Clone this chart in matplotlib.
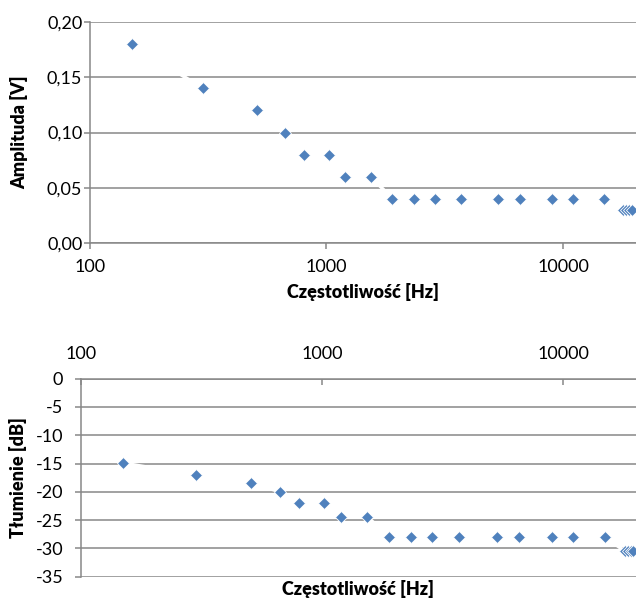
import matplotlib
matplotlib.use("Agg")
import matplotlib.pyplot as plt
from matplotlib.ticker import NullLocator

plt.rcParams['font.family'] = ['Lato', 'DejaVu Sans']

# ---- data ----
freq_hz = [150, 300, 510, 670, 805, 1020, 1200, 1540, 1900, 2340, 2870, 3710,
           5320, 6560, 9020, 11000, 14950, 18000, 18500, 19000, 19500]
amplitude_v = [0.18, 0.14, 0.12, 0.10, 0.08, 0.08, 0.06, 0.06,
               0.04, 0.04, 0.04, 0.04, 0.04, 0.04, 0.04, 0.04, 0.04,
               0.03, 0.03, 0.03, 0.03]
attenuation_db = [-14.9, -17.1, -18.4, -20.0, -21.9, -21.9, -24.4, -24.4,
                  -28.0, -28.0, -28.0, -28.0, -28.0, -28.0, -28.0, -28.0, -28.0,
                  -30.5, -30.5, -30.5, -30.5]

x_ticks = [100, 1000, 10000]
x_tick_labels = ['100', '1000', '10000']
amp_ticks = [0.0, 0.05, 0.10, 0.15, 0.20]
amp_tick_labels = ['0,00', '0,05', '0,10', '0,15', '0,20']
db_ticks = [0, -5, -10, -15, -20, -25, -30, -35]
db_tick_labels = ['0', '-5', '-10', '-15', '-20', '-25', '-30', '-35']

xlabel = 'Częstotliwość [Hz]'
ylabel_top = 'Amplituda [V]'
ylabel_bot = 'Tłumienie [dB]'

MARK = '#4F81BD'
GRID = '#878787'
TICKFS = 13
LABFS = 13

W, H = 636, 598
fig = plt.figure(figsize=(W / 100, H / 100), dpi=100)


def px_axes(left, top, right, bottom):
    return fig.add_axes([left / W, 1 - bottom / H, (right - left) / W, (bottom - top) / H])


def draw_series(ax, x, y):
    ax.plot(x, y, color='white', lw=2.5, zorder=2, solid_capstyle='butt')
    ax.plot(x, y, ls='none', marker='D', markersize=6.0, color=MARK,
            markeredgecolor='white', markeredgewidth=0.6, zorder=3)


def style(ax):
    ax.set_xscale('log')
    ax.xaxis.set_minor_locator(NullLocator())
    ax.yaxis.set_minor_locator(NullLocator())
    ax.set_facecolor('white')
    ax.grid(axis='y', color=GRID, lw=1.1)
    ax.grid(axis='x', visible=False)
    ax.set_axisbelow(True)
    for s in ax.spines.values():
        s.set_color(GRID)
        s.set_linewidth(1.1)


# ---- top chart ----
ax1 = px_axes(90, 22, 636, 243)
style(ax1)
draw_series(ax1, freq_hz, amplitude_v)
ax1.set_xlim(100, 10 ** (2 + (636 - 90) / 236.5))
ax1.set_ylim(0, 0.20)
ax1.set_xticks(x_ticks, x_tick_labels)
ax1.set_yticks(amp_ticks, amp_tick_labels)
ax1.xaxis.set_minor_locator(NullLocator())
ax1.spines['top'].set_visible(False)
ax1.spines['right'].set_visible(False)
ax1.tick_params(axis='x', direction='out', length=4.3, width=1.1, color=GRID,
                pad=7.5, labelsize=TICKFS)
ax1.tick_params(axis='y', direction='out', length=4.5, width=1.1, color=GRID,
                pad=1.0, labelsize=TICKFS)
ax1.set_xlabel(xlabel, fontsize=LABFS, fontweight='heavy')
ax1.set_ylabel(ylabel_top, fontsize=LABFS, fontweight='heavy')
ax1.xaxis.set_label_coords(0.5, -0.18)
ax1.yaxis.set_label_coords((28 - 90) / 546, 0.5)

# ---- bottom chart ----
ax2 = px_axes(80.7, 378.7, 636, 576.7)
style(ax2)
draw_series(ax2, freq_hz, attenuation_db)
ax2.set_xlim(100, 10 ** (2 + (636 - 80.7) / 241.3))
ax2.set_ylim(-35, 0)
ax2.set_xticks(x_ticks, x_tick_labels)
ax2.set_yticks(db_ticks, db_tick_labels)
ax2.xaxis.set_minor_locator(NullLocator())
ax2.xaxis.tick_top()
ax2.spines['bottom'].set_visible(False)
ax2.spines['right'].set_visible(False)
ax2.tick_params(axis='x', which='both', direction='in', length=4.3, width=1.1,
                color=GRID, pad=12.0, labelsize=TICKFS, bottom=False, top=True)
ax2.tick_params(axis='y', direction='out', length=4.5, width=1.1, color=GRID,
                pad=8.0, labelsize=TICKFS)
ax2.set_xlabel(xlabel, fontsize=LABFS, fontweight='heavy')
ax2.xaxis.set_label_position('bottom')
ax2.set_ylabel(ylabel_bot, fontsize=LABFS, fontweight='heavy')
ax2.xaxis.set_label_coords(0.5, -0.015)
ax2.yaxis.set_label_coords((27 - 80.7) / 555.3, 0.5)

fig.savefig('out.png', dpi=100, facecolor='white')
